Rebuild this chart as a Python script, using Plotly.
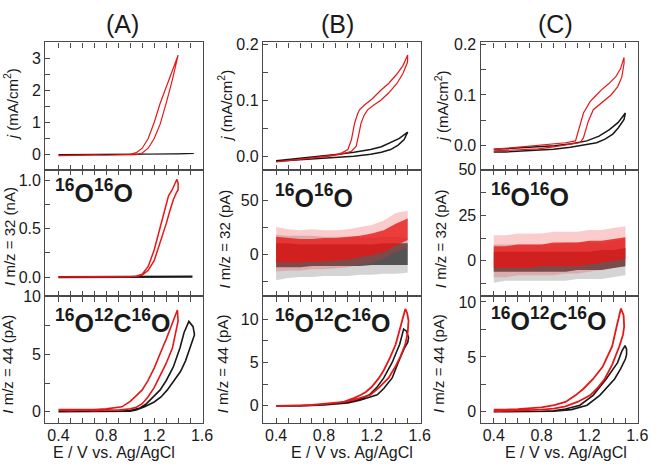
import plotly.graph_objects as go

W, H = 659, 466
FONT = "Liberation Sans, Arial, sans-serif"
RED = "rgb(232,22,22)"
BLK = "rgb(25,25,25)"

# ---------------- data ----------------
# Column A, current density j (mA/cm2)
A_J_RED_E = [0.40,0.50,0.60,0.70,0.80,0.90,1.00,1.05,1.10,1.15,1.20,1.25,1.30,1.35,1.40,
             1.35,1.30,1.25,1.20,1.15,1.10,1.05,1.00,0.90,0.80,0.70,0.60,0.50,0.40]
A_J_RED = [-0.03,-0.02,-0.03,-0.02,-0.02,-0.01,-0.01,0.0,0.05,0.2,0.5,0.95,1.6,2.3,3.1,
           2.6,2.15,1.6,1.0,0.5,0.2,0.06,0.01,-0.01,-0.02,-0.01,-0.02,-0.02,-0.03]
A_J_BLK_E = [0.40,0.60,0.80,1.00,1.10,1.20,1.30,1.40,1.53,1.40,1.30,1.20,1.10,1.00,0.80,0.60,0.40]
A_J_BLK = [0.0,0.0,0.0,0.005,0.008,0.01,0.015,0.02,0.035,0.025,0.018,0.012,0.01,0.007,0.003,0.0,0.0]

# Column A, m/z = 32 (nA)
A_O2_RED_E = [0.40,0.50,0.60,0.70,0.80,0.90,1.00,1.05,1.10,1.15,1.20,1.25,1.30,1.33,1.36,1.385,1.40,
              1.40,1.39,1.375,1.35,1.32,1.30,1.25,1.20,1.15,1.10,1.05,1.00,0.90,0.80,0.70,0.60,0.50,0.40]
A_O2_RED = [0.0,0.0,0.0,0.0,0.0,0.0,0.0,0.005,0.02,0.07,0.17,0.35,0.55,0.68,0.80,0.87,0.90,
            0.97,1.01,0.97,0.90,0.84,0.75,0.50,0.28,0.11,0.03,0.01,0.0,0.0,0.0,0.0,0.0,0.0,0.0]
A_O2_BLK_E = [0.40,0.80,1.00,1.20,1.40,1.52,1.40,1.20,1.00,0.80,0.40]
A_O2_BLK = [0.0,0.0,0.0,0.0,0.0,0.005,0.0,0.0,0.0,0.0,0.0]

# Column A, m/z = 44 (pA)
A_CO2_RED_E = [0.40,0.50,0.60,0.70,0.80,0.90,1.00,1.05,1.10,1.148,1.20,1.23,1.30,1.353,1.38,1.40,1.394,
               1.35,1.30,1.27,1.20,1.148,1.10,1.04,1.00,0.93,0.85,0.80,0.70,0.60,0.50,0.40]
A_CO2_RED = [0.15,0.1,0.15,0.1,0.15,0.15,0.25,0.4,0.7,1.29,2.1,2.7,4.2,5.57,6.8,7.9,8.85,
             7.6,6.3,5.57,3.8,2.7,1.9,1.29,0.9,0.43,0.3,0.25,0.2,0.2,0.2,0.2]
A_CO2_BLK_E = [0.40,0.60,0.80,0.90,1.00,1.05,1.12,1.20,1.257,1.31,1.367,1.42,1.462,1.50,1.537,1.525,1.49,
               1.45,1.416,1.36,1.30,1.25,1.19,1.13,1.08,1.00,0.90,0.80,0.60,0.40]
A_CO2_BLK = [0.0,0.0,0.0,0.0,0.05,0.15,0.43,0.85,1.29,1.9,2.71,3.5,4.43,5.5,6.7,7.4,7.86,
             6.9,5.57,3.9,2.7,1.9,1.29,0.65,0.33,0.1,0.05,0.05,0.05,0.05]

# Column B, j (mA/cm2)
B_J_RED_E = [0.40,0.50,0.60,0.70,0.80,0.90,0.95,1.00,1.03,1.056,1.08,1.097,1.138,1.20,1.275,1.34,1.41,1.46,1.50,
             1.498,1.46,1.41,1.34,1.275,1.22,1.165,1.135,1.11,1.09,1.07,1.03,0.95,0.85,0.70,0.60,0.50,0.40]
B_J_RED = [-0.010,-0.008,-0.006,-0.003,0.0,0.003,0.006,0.012,0.03,0.059,0.075,0.083,0.0915,0.102,0.118,0.13,0.147,0.162,0.181,
           0.168,0.148,0.13,0.113,0.100,0.092,0.083,0.073,0.059,0.038,0.018,0.009,0.004,0.0,-0.004,-0.006,-0.008,-0.010]
B_J_BLK_E = [0.40,0.60,0.80,0.92,1.05,1.19,1.28,1.357,1.43,1.50,1.47,1.42,1.357,1.28,1.19,1.05,0.92,0.80,0.60,0.40]
B_J_BLK = [-0.008,-0.004,0.0,0.0035,0.007,0.012,0.017,0.024,0.032,0.043,
           0.03,0.02,0.012,0.007,0.0035,0.0,-0.002,-0.004,-0.007,-0.009]

# Column B, m/z = 44 (pA)
B_CO2_RED_E = [0.40,0.50,0.60,0.70,0.80,0.90,0.97,1.05,1.12,1.19,1.26,1.34,1.40,1.44,1.48,1.50,1.507,1.495,1.48,
               1.45,1.40,1.35,1.30,1.26,1.20,1.15,1.11,1.05,0.97,0.90,0.80,0.70,0.60,0.50,0.40]
B_CO2_RED = [0.0,0.0,0.05,0.1,0.2,0.3,0.45,0.7,1.0,1.28,2.1,3.22,4.6,5.7,7.09,8.5,9.8,10.7,11.16,
             9.6,7.09,5.5,4.1,3.22,2.2,1.6,1.28,0.9,0.5,0.35,0.2,0.1,0.05,0.0,0.0]
B_CO2_BLK_E = [0.40,0.60,0.80,0.90,1.00,1.10,1.18,1.245,1.30,1.37,1.425,1.47,1.50,1.507,1.49,1.466,
               1.433,1.37,1.30,1.24,1.18,1.10,1.00,0.90,0.80,0.60,0.40]
B_CO2_BLK = [0.0,0.0,0.1,0.2,0.35,0.65,0.95,1.28,2.0,3.22,5.15,6.6,7.3,7.87,8.6,8.84,
             7.09,5.0,3.22,2.1,1.28,0.8,0.45,0.3,0.15,0.0,0.0]

# Column C, j (mA/cm2)
C_J_RED_E = [0.40,0.50,0.60,0.70,0.77,0.90,1.00,1.124,1.15,1.19,1.232,1.28,1.327,1.38,1.435,1.47,1.489,1.489,
             1.46,1.42,1.36,1.30,1.25,1.205,1.15,1.11,1.083,1.00,0.90,0.80,0.70,0.60,0.50,0.40]
C_J_RED = [-0.010,-0.009,-0.008,-0.007,-0.006,-0.002,0.002,0.0065,0.016,0.048,0.071,0.08,0.090,0.1,0.116,0.135,0.162,0.174,
           0.152,0.136,0.122,0.11,0.098,0.087,0.0645,0.032,0.0097,0.006,0.004,0.002,0.0,-0.003,-0.005,-0.007]
C_J_BLK_E = [0.40,0.60,0.80,0.906,1.05,1.178,1.28,1.367,1.44,1.50,
             1.489,1.44,1.395,1.33,1.26,1.15,1.04,0.90,0.636,0.50,0.40]
C_J_BLK = [-0.007,-0.004,-0.002,0.0,0.004,0.0097,0.019,0.032,0.046,0.0645,
           0.052,0.035,0.023,0.013,0.006,0.001,-0.003,-0.007,-0.011,-0.012,-0.012]

# Column C, m/z = 44 (pA)
C_CO2_RED_E = [0.40,0.60,0.80,0.90,1.00,1.10,1.205,1.27,1.327,1.39,1.45,1.48,1.49,1.485,1.463,
               1.43,1.39,1.31,1.23,1.15,1.083,1.00,0.905,0.80,0.70,0.60,0.50,0.40]
C_CO2_RED = [0.05,0.1,0.2,0.3,0.5,0.9,1.5,2.2,2.99,4.3,5.97,7.0,7.76,8.8,9.4,
             7.9,5.97,4.1,2.99,2.1,1.5,0.9,0.6,0.4,0.3,0.25,0.2,0.2]
C_CO2_BLK_E = [0.40,0.60,0.80,0.90,1.05,1.18,1.286,1.41,1.46,1.50,1.51,1.51,1.497,
               1.47,1.435,1.34,1.23,1.12,1.00,0.90,0.80,0.60,0.40]
C_CO2_BLK = [0.0,0.0,0.0,0.05,0.2,0.6,1.5,2.99,3.9,4.8,5.2,5.7,6.03,
             5.5,4.48,2.99,1.5,0.6,0.25,0.1,0.05,0.0,0.0]

# Noise envelopes of the m/z = 32 signal in columns B and C (pA)
NOISE_E = [0.40,0.50,0.60,0.70,0.80,0.90,1.00,1.10,1.20,1.30,1.40,1.50]
B_O2_RED_OUT_HI = [25,23,22,23,22,22,23,25,27,31,38,40]
B_O2_RED_IN_HI = [16,15,14,14,15,15,16,17,19,22,28,33]
B_O2_RED_IN_LO = [-8,-8,-8,-7,-7,-6,-5,-3,-1,2,8,13]
B_O2_RED_OUT_LO = [-16,-15,-15,-14,-14,-13,-12,-10,-8,-4,2,6]
B_O2_BLK_OUT_HI = [18,17,17,17,16,16,16,16,15,16,16,15]
B_O2_BLK_IN_HI = [10,10,9,9,9,9,9,9,9,10,10,10]
B_O2_BLK_IN_LO = [-12,-12,-12,-11,-11,-11,-11,-11,-10,-10,-10,-10]
B_O2_BLK_OUT_LO = [-24,-22,-21,-21,-20,-20,-20,-19,-19,-18,-18,-17]

C_O2_RED_OUT_HI = [14,14,15,15,15,16,16,16,17,17,18,19]
C_O2_RED_IN_HI = [8,8,9,9,9,10,10,10,11,11,12,13]
C_O2_RED_IN_LO = [-4,-4,-4,-4,-3,-3,-3,-3,-2,-1,0,1]
C_O2_RED_OUT_LO = [-9,-9,-8,-8,-8,-8,-7,-7,-6,-5,-4,-3]
C_O2_BLK_OUT_HI = [9,9,9,9,9,9,10,10,10,10,11,12]
C_O2_BLK_IN_HI = [5,5,5,5,5,5,5,5,5,6,6,7]
C_O2_BLK_IN_LO = [-6,-6,-6,-6,-6,-6,-6,-5,-5,-5,-4,-3]
C_O2_BLK_OUT_LO = [-12,-11,-11,-11,-11,-11,-11,-10,-10,-10,-9,-8]

# tick labels
X_TICKS = [0.4,0.5,0.6,0.7,0.8,0.9,1.0,1.1,1.2,1.3,1.4,1.5,1.6]
X_LABELS = ["0.4","","","","0.8","","","","1.2","","","","1.6"]

Y_TICKS = {
    1: ([0,0.5,1,1.5,2,2.5,3], ["0","","1","","2","","3"]),
    4: ([0,0.25,0.5,0.75,1.0], ["0.0","","0.5","","1.0"]),
    7: ([0,2.5,5,7.5,10], ["0","","5","","10"]),
    2: ([0,0.05,0.1,0.15,0.2], ["0.0","","0.1","","0.2"]),
    5: ([-25,0,25,50], ["","0","","50"]),
    8: ([0,2.5,5,7.5,10], ["0","","5","","10"]),
    3: ([0,0.05,0.1,0.15,0.2], ["0.0","","0.1","","0.2"]),
    6: ([-12.5,0,12.5,25,37.5,50], ["","0","","25","","50"]),
    9: ([0,2.5,5,7.5,10], ["0","","5","","10"]),
}
Y_RANGES = {1: [-0.47, 3.5], 4: [-0.2, 1.11], 7: [-1.0, 10.03],
            2: [-0.024, 0.2035], 5: [-39, 78], 8: [-2.0, 12.6],
            3: [-0.047, 0.2035], 6: [-19.6, 50.1], 9: [-1.04, 10.5]}

# ---------------- figure ----------------
fig = go.Figure()

def loop(k, xs, ys, color, width=1.3):
    fig.add_trace(go.Scatter(x=xs, y=ys, mode="lines", xaxis=f"x{k}", yaxis=f"y{k}",
                             line=dict(color=color, width=width), hoverinfo="skip",
                             showlegend=False))

def band(k, xs, hi, lo, color):
    fig.add_trace(go.Scatter(x=xs + xs[::-1], y=hi + lo[::-1], mode="lines", fill="toself",
                             fillcolor=color, line=dict(width=0, color=color),
                             xaxis=f"x{k}", yaxis=f"y{k}", hoverinfo="skip", showlegend=False))

# column A (subplots 1, 4, 7)
loop(1, A_J_BLK_E, A_J_BLK, BLK, 1.2)
loop(1, A_J_RED_E, A_J_RED, RED, 1.2)
loop(4, A_O2_BLK_E, A_O2_BLK, BLK, 2.2)
loop(4, A_O2_RED_E, A_O2_RED, RED, 1.5)
loop(7, A_CO2_BLK_E, A_CO2_BLK, BLK, 1.6)
loop(7, A_CO2_RED_E, A_CO2_RED, RED, 1.6)
# column B (2, 5, 8)
loop(2, B_J_BLK_E, B_J_BLK, BLK, 1.5)
loop(2, B_J_RED_E, B_J_RED, RED, 1.2)
band(5, NOISE_E, B_O2_BLK_OUT_HI, B_O2_BLK_OUT_LO, "rgba(60,60,60,0.22)")
band(5, NOISE_E, B_O2_BLK_IN_HI, B_O2_BLK_IN_LO, "rgba(40,40,40,0.75)")
band(5, NOISE_E, B_O2_RED_OUT_HI, B_O2_RED_OUT_LO, "rgba(240,50,50,0.25)")
band(5, NOISE_E, B_O2_RED_IN_HI, B_O2_RED_IN_LO, "rgba(232,20,20,0.78)")
loop(8, B_CO2_BLK_E, B_CO2_BLK, BLK, 1.6)
loop(8, B_CO2_RED_E, B_CO2_RED, RED, 1.8)
# column C (3, 6, 9)
loop(3, C_J_BLK_E, C_J_BLK, BLK, 1.5)
loop(3, C_J_RED_E, C_J_RED, RED, 1.2)
band(6, NOISE_E, C_O2_BLK_OUT_HI, C_O2_BLK_OUT_LO, "rgba(60,60,60,0.22)")
band(6, NOISE_E, C_O2_BLK_IN_HI, C_O2_BLK_IN_LO, "rgba(40,40,40,0.75)")
band(6, NOISE_E, C_O2_RED_OUT_HI, C_O2_RED_OUT_LO, "rgba(240,50,50,0.25)")
band(6, NOISE_E, C_O2_RED_IN_HI, C_O2_RED_IN_LO, "rgba(232,20,20,0.78)")
loop(9, C_CO2_BLK_E, C_CO2_BLK, BLK, 1.6)
loop(9, C_CO2_RED_E, C_CO2_RED, RED, 1.8)

# layout geometry (pixels)
COL_X = [(46, 206), (267, 427), (488, 648)]
ROW_Y = [(35, 164.5), (164.5, 293.5), (293.5, 422.5)]
FRAME = "#4a4a4a"
layout = dict(width=W, height=H, margin=dict(l=0, r=0, t=0, b=0),
              paper_bgcolor="white", plot_bgcolor="white",
              font=dict(family=FONT, size=16, color="#1a1a1a"), showlegend=False)

for r in range(3):
    for c in range(3):
        k = r * 3 + c + 1
        x0, x1 = COL_X[c]
        y0, y1 = ROW_Y[r]
        layout[f"xaxis{k}"] = dict(
            domain=[x0 / W, x1 / W], anchor=f"y{k}", range=[0.29, 1.607],
            tickmode="array", tickvals=X_TICKS,
            ticktext=X_LABELS if r == 2 else [""] * len(X_TICKS),
            ticks="inside", ticklen=5, tickwidth=1, tickcolor=FRAME,
            ticklabelstandoff=-3,
            showline=True, linecolor=FRAME, linewidth=1.3, mirror="ticks",
            showgrid=False, zeroline=False, fixedrange=True,
            tickfont=dict(size=16, family=FONT))
        tv, tt = Y_TICKS[k]
        layout[f"yaxis{k}"] = dict(
            domain=[1 - y1 / H, 1 - y0 / H], anchor=f"x{k}", range=Y_RANGES[k],
            tickmode="array", tickvals=tv, ticktext=tt,
            ticks="inside", ticklen=5, tickwidth=1, tickcolor=FRAME,
            showline=True, linecolor=FRAME, linewidth=1.3, mirror=True,
            showgrid=False, zeroline=False, fixedrange=True,
            tickfont=dict(size=16, family=FONT))

def px(x, y):
    return x / W, 1 - y / H

ann = []
def text(x, y, s, size, angle=0, xanchor="center", bold=False):
    xx, yy = px(x, y)
    ann.append(dict(x=xx, y=yy, xref="paper", yref="paper", text=s, showarrow=False,
                    textangle=angle, xanchor=xanchor, yanchor="middle",
                    font=dict(family=FONT, size=size, color="#1a1a1a")))

# column titles
text(124, 16, "(A)", 25)
text(343, 16, "(B)", 25)
text(564, 16, "(C)", 25)

# x titles
for xc in (116, 357, 575):
    text(xc, 452, "E / V vs. Ag/AgCl", 16)

# y titles
YT_J = "<i>j</i> (mA/cm<sup>2</sup>)"
text(11, 98, YT_J, 15, -90)
text(228, 100, YT_J, 15, -90)
text(448, 100, YT_J, 15, -90)
text(9, 232, "<i>I</i> m/z = 32 (nA)", 15, -90)
text(228, 235, "<i>I</i> m/z = 32 (pA)", 15, -90)
text(448, 235, "<i>I</i> m/z = 32 (pA)", 15, -90)
text(8, 362, "<i>I</i> m/z = 44 (pA)", 15, -90)
text(226, 362, "<i>I</i> m/z = 44 (pA)", 15, -90)
text(446, 362, "<i>I</i> m/z = 44 (pA)", 15, -90)

# species labels
O2 = "<b><sup>16</sup>O<sup>16</sup>O</b>"
CO2 = "<b><sup>16</sup>O<sup>12</sup>C<sup>16</sup>O</b>"
text(54, 186, O2, 25, xanchor="left")
text(277, 191, O2, 25, xanchor="left")
text(497, 190, O2, 25, xanchor="left")
text(54, 318, CO2, 25, xanchor="left")
text(277, 318, CO2, 25, xanchor="left")
text(497, 316, CO2, 25, xanchor="left")

layout["annotations"] = ann
fig.update_layout(**layout)
fig.write_html("out.html", config={"displayModeBar": False},
               post_script="document.body.style.margin='0px';document.body.style.overflow='hidden';")
